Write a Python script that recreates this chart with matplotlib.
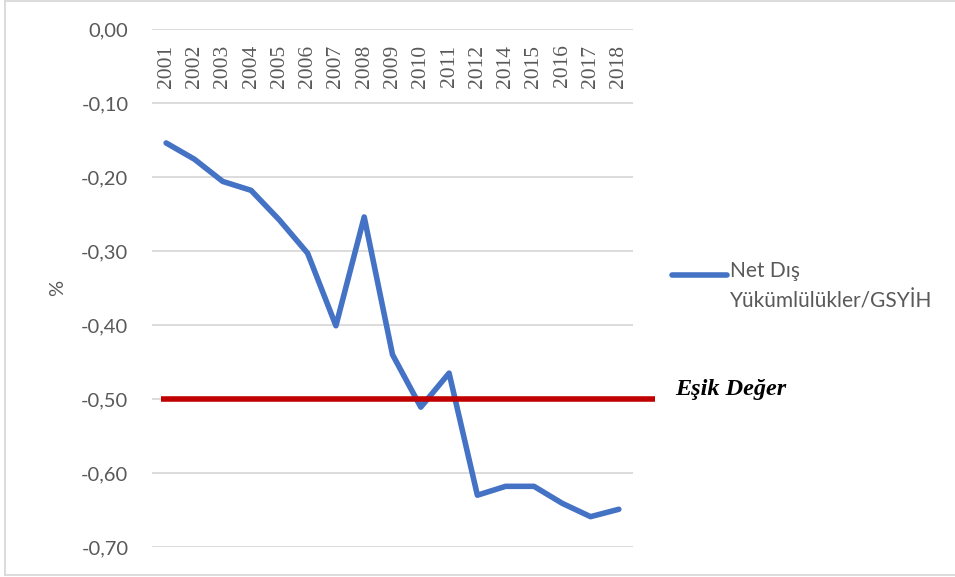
import matplotlib
matplotlib.use("Agg")
import matplotlib.pyplot as plt
from matplotlib.lines import Line2D

years = ["2001", "2002", "2003", "2004", "2005", "2006", "2007", "2008", "2009",
         "2010", "2011", "2012", "2014", "2015", "2016", "2017", "2018"]
values = [-0.154, -0.176, -0.206, -0.218, -0.258, -0.303, -0.401, -0.254, -0.440,
          -0.511, -0.465, -0.630, -0.618, -0.618, -0.641, -0.659, -0.649]
threshold = -0.50
threshold_label = "Eşik Değer"
series_label = "Net Dış\nYükümlülükler/GSYİH"
yticks = [0.0, -0.1, -0.2, -0.3, -0.4, -0.5, -0.6, -0.7]
ytick_labels = ["0,00", "-0,10", "-0,20", "-0,30", "-0,40", "-0,50", "-0,60", "-0,70"]

W, H = 955, 577
fig = plt.figure(figsize=(W / 100, H / 100), dpi=100)
ax = fig.add_axes([152 / W, 1 - 547 / H, (633 - 152) / W, (547 - 29) / H])

gray = "#595959"
blue = "#4472C4"
red = "#C00000"

x = list(range(len(years)))
ax.set_xlim(-0.5, len(years) - 0.5)
ax.set_ylim(-0.70, 0.0)
ax.set_yticks(yticks)
ax.set_yticklabels(ytick_labels, fontsize=14.5, color=gray, family="Lato")
ax.tick_params(axis="y", length=0, pad=17)
ax.set_xticks([])
for s in ax.spines.values():
    s.set_visible(False)
ax.grid(axis="y", color="#D9D9D9", linewidth=1.3)
ax.set_axisbelow(True)

for xi, lab in zip(x, years):
    ax.text(xi, -0.021, lab, rotation=90, ha="center", va="top",
            fontsize=15.5, color=gray, family="Liberation Serif")

ax.plot(x, values, color=blue, linewidth=4, solid_capstyle="round",
        solid_joinstyle="round", zorder=3)

ax.plot([-0.19, 17.27], [threshold, threshold], color=red, linewidth=4,
        clip_on=False, zorder=4, solid_capstyle="butt")

fig.text(58 / W, 1 - 288 / H, "%", rotation=90, fontsize=14.5, color=gray,
         family="Lato", ha="center", va="center")

# legend
fig.add_artist(Line2D([672 / W, 727 / W], [1 - 275 / H, 1 - 275 / H],
                      color=blue, linewidth=4, solid_capstyle="round"))
fig.text(730 / W, 1 - 261 / H, series_label, fontsize=15, color=gray,
         family="Lato", va="top", ha="left", linespacing=1.6)

fig.text(675 / W, 1 - 389 / H, threshold_label, fontsize=17.5, color="black",
         family="Liberation Serif", style="italic", weight="bold",
         va="center", ha="left")

# chart border
for (x0, y0, x1, y1) in [(5, 1, 5, 575), (5, 1, 955, 1), (5, 575, 955, 575)]:
    fig.add_artist(Line2D([x0 / W, x1 / W], [1 - y0 / H, 1 - y1 / H],
                          color="#D9D9D9", linewidth=1.3))

fig.savefig("out.png", dpi=100, facecolor="white")
